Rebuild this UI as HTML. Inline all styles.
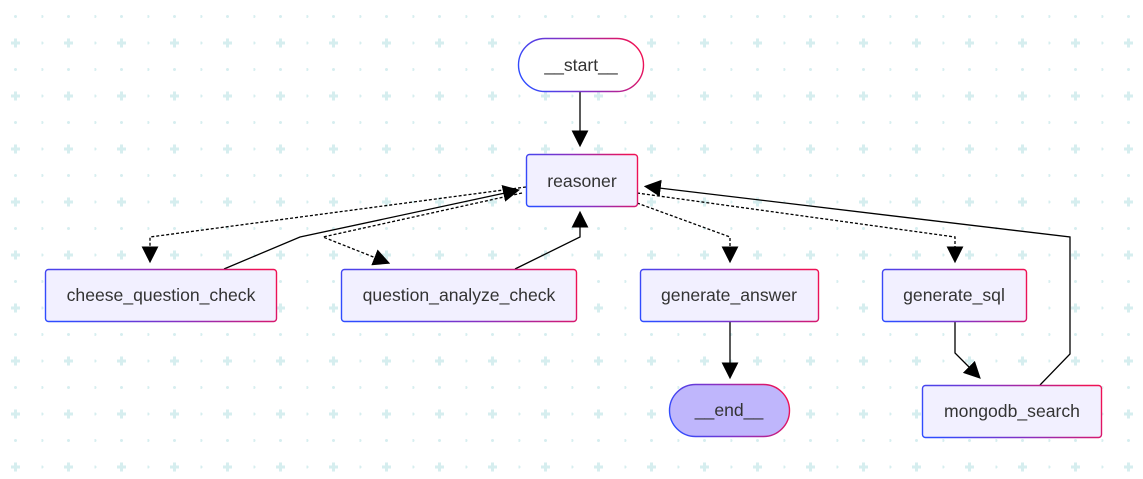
<!DOCTYPE html>
<html><head><meta charset="utf-8"><style>
html,body{margin:0;padding:0;background:#fff;}
svg{display:block;}
text{font-family:"Liberation Sans",Arial,sans-serif;font-size:17.6px;fill:#333;}
</style></head><body>
<svg width="1143" height="479" viewBox="0 0 1143 479" xmlns="http://www.w3.org/2000/svg">
<defs>
<pattern id="grid" x="-11.5" y="14.5" width="53" height="53" patternUnits="userSpaceOnUse">
  <rect x="25.5" y="24" width="3" height="9" fill="#d6eeef"/>
  <rect x="22.5" y="27" width="9" height="3" fill="#d6eeef"/>
  <circle cx="0.5" cy="28.5" r="1.5" fill="#d6eeef"/>
  <circle cx="27" cy="2" r="1.5" fill="#d6eeef"/>
  <circle cx="0.5" cy="2" r="1.5" fill="#d6eeef"/>
</pattern>
<linearGradient id="g" x1="0" y1="0.6" x2="1" y2="0.4">
  <stop offset="0" stop-color="#2f4cff"/><stop offset="0.5" stop-color="#8a2fc0"/><stop offset="1" stop-color="#ee1155"/>
</linearGradient>
<marker id="A" viewBox="0 0 10 10" refX="1" refY="5" markerWidth="17" markerHeight="17" markerUnits="userSpaceOnUse" orient="auto">
  <path d="M0,0 L10,5 L0,10 z" fill="#000"/>
</marker>
</defs>
<rect width="1143" height="479" fill="url(#grid)"/>

<g fill="none" stroke="#000" stroke-width="1.3">
<path d="M580,91 L580,132" marker-end="url(#A)"/>
<path d="M526,187 L150,237 L150,248" stroke-dasharray="3,2" marker-end="url(#A)"/>
<path d="M224,269 L300,237 L505,193" marker-end="url(#A)"/>
<path d="M522,193 L323,237 L376,258" stroke-dasharray="3,2" marker-end="url(#A)"/>
<path d="M515,269 L580,237 L580,226" marker-end="url(#A)"/>
<path d="M637,203 L730,237 L730,248" stroke-dasharray="3,2" marker-end="url(#A)"/>
<path d="M637,193 L955,237 L955,248" stroke-dasharray="3,2" marker-end="url(#A)"/>
<path d="M730,321 L730,364" marker-end="url(#A)"/>
<path d="M955,321 L955,353 L970,368" marker-end="url(#A)"/>
<path d="M1040,385 L1070,354 L1070,237 L659,188" marker-end="url(#A)"/>
</g>

<g stroke="url(#g)" stroke-width="1.4">
<rect x="518.5" y="38.5" width="125" height="53" rx="26.5" fill="#fff"/>
<rect x="526.5" y="154.5" width="111" height="52" rx="3" fill="#f2f0ff"/>
<rect x="45.5" y="269.5" width="231" height="52" rx="3" fill="#f2f0ff"/>
<rect x="341.5" y="269.5" width="235" height="52" rx="3" fill="#f2f0ff"/>
<rect x="640.5" y="269.5" width="178" height="52" rx="3" fill="#f2f0ff"/>
<rect x="882.5" y="269.5" width="144" height="52" rx="3" fill="#f2f0ff"/>
<rect x="669.5" y="384.5" width="120" height="52" rx="26" fill="#bfb6fc"/>
<rect x="922.5" y="385.5" width="179" height="52" rx="3" fill="#f2f0ff"/>
</g>

<g text-anchor="middle">
<text x="581" y="71">__start__</text>
<text x="582" y="187">reasoner</text>
<text x="161" y="301">cheese_question_check</text>
<text x="459" y="301">question_analyze_check</text>
<text x="729" y="301">generate_answer</text>
<text x="954" y="301">generate_sql</text>
<text x="729" y="416">__end__</text>
<text x="1012" y="417">mongodb_search</text>
</g>
</svg>
</body></html>
